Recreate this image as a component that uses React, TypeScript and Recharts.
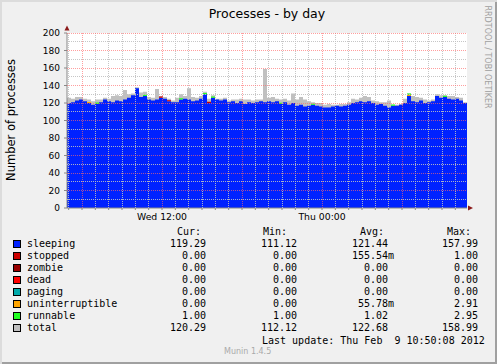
import React from "react";
import { ComposedChart, Area, XAxis, YAxis, CartesianGrid, ReferenceLine } from "recharts";

// time axis: hours since Wed 00:00, graph covers 30h ending Thu 10:52
const START_H = 4.875;
const STEP_H = 0.3;
const END_H = START_H + 30;

const sleeping = [
  120, 121, 123, 124, 122, 120, 118, 119, 121, 124,
  122, 121, 123, 122, 124, 126, 129, 137, 127, 128,
  124, 123, 124, 126, 125, 122, 121, 121, 124, 125,
  124, 122, 123, 125, 130, 120, 126, 124, 123, 124,
  121, 122, 120, 122, 119, 121, 120, 121, 122, 121,
  122, 121, 122, 119, 121, 118, 120, 117, 118, 116,
  117, 118, 117, 116, 115, 115, 116, 117, 116, 117,
  118, 120, 121, 122, 121, 122, 120, 118, 119, 117,
  115, 117, 117, 118, 120, 128, 122, 121, 123, 120,
  121, 122, 128, 126, 127, 125, 124, 125, 123, 120,
];

const total = [
  126, 125, 127, 127, 125, 124, 122, 124, 124, 126,
  125, 128, 129, 128, 135, 130, 131, 138, 132, 133,
  127, 126, 136, 128, 127, 125, 123, 126, 130, 128,
  137, 127, 126, 128, 133, 125, 129, 125, 125, 126,
  123, 124, 124, 125, 124, 124, 123, 124, 124, 159,
  126, 127, 125, 124, 125, 123, 131, 124, 127, 124,
  122, 121, 120, 120, 118, 119, 118, 118, 119, 119,
  121, 125, 124, 126, 128, 127, 123, 122, 121, 121,
  123, 118, 118, 119, 125, 131, 128, 127, 126, 124,
  123, 124, 130, 129, 129, 128, 128, 127, 126, 121,
];

// sparse series: [sample index, value]
const stoppedSpikes: [number, number][] = [[23, 1.5], [25, 1.2], [35, 1.5]];
const uninterruptibleSpikes: [number, number][] = [[5, 1.2], [85, 1.5]];
const runnableSpikes: [number, number][] = [
  [7, 1.5], [19, 1.5], [28, 1.5], [34, 1.5], [36, 1.5],
  [53, 1.2], [61, 1.2], [81, 1.2], [85, 1.5], [94, 1.2],
];

const yTicks = [0, 20, 40, 60, 80, 100, 120, 140, 160, 180, 200];
const yMinor = [10, 30, 50, 70, 90, 110, 130, 150, 170, 190];
const xMajor = [6, 12, 18, 24, 30];
const xLabels: Record<number, string> = { 12: "Wed 12:00", 24: "Thu 00:00" };

const legendNames = ["sleeping", "stopped", "zombie", "dead", "paging", "uninterruptible", "runnable", "total"];
const legendColors = ["#0022ff", "#cc0000", "#990000", "#ff0000", "#00aaaa", "#ffa500", "#22ff22", "#c0c0c0"];
const curVals = ["119.29", "  0.00", "  0.00", "  0.00", "  0.00", "  0.00", "  1.00", "120.29"];
const minVals = ["111.12", "  0.00", "  0.00", "  0.00", "  0.00", "  0.00", "  1.00", "112.12"];
const avgVals = ["121.44 ", "155.54m", "  0.00 ", "  0.00 ", "  0.00 ", " 55.78m", "  1.02 ", "122.68 "];
const maxVals = ["157.99", "  1.00", "  0.00", "  0.00", "  0.00", "  2.91", "  2.95", "158.99"];

const xHours = Array.from({ length: 30 }, (_, k) => 5 + k);

function spikeAt(list: [number, number][], i: number) {
  const hit = list.find((p) => p[0] === i);
  return hit ? hit[1] : 0;
}

const rows = sleeping.map((s, i) => ({
  t: START_H + i * STEP_H,
  sleeping: s,
  stopped: spikeAt(stoppedSpikes, i),
  zombie: 0,
  dead: 0,
  paging: 0,
  uninterruptible: spikeAt(uninterruptibleSpikes, i),
  runnable: spikeAt(runnableSpikes, i),
  total: total[i],
}));
rows.push({ ...rows[rows.length - 1], t: END_H });

const FONT = "'DejaVu Sans', sans-serif";
const MONO = "'DejaVu Sans Mono', monospace";
const stackKeys = ["sleeping", "stopped", "zombie", "dead", "paging", "uninterruptible", "runnable"];
const MARGIN = { top: 33, right: 30, bottom: 0, left: 27 };

const txt = (left: number, top: number, s: string, extra: React.CSSProperties = {}) => (
  <div style={{ position: "absolute", left, top, whiteSpace: "pre", fontFamily: MONO, fontSize: 10, lineHeight: "12px", ...extra }}>{s}</div>
);

export default function App() {
  return (
    <div
      style={{
        position: "absolute", left: 0, top: 0, width: 497, height: 364, background: "#f0f0f0",
        boxShadow: "inset 2px 2px 0 #dcdcdc, inset -2px -2px 0 #a0a0a0", overflow: "hidden",
      }}
    >
      <div style={{ position: "absolute", left: 0, top: 0 }}>
        <ComposedChart width={497} height={230} data={rows} margin={MARGIN}>
          <CartesianGrid fill="#ffffff" stroke="none" horizontal={false} vertical={false} />
          <XAxis
            dataKey="t" type="number" domain={[START_H, END_H]} ticks={xHours} interval={0}
            tickFormatter={(v: number) => xLabels[v] ?? ""} height={22} tickSize={2} tickMargin={3}
            stroke="#888888" tick={{ fontSize: 9.3, fill: "#000", fontFamily: FONT }}
          />
          <YAxis
            type="number" domain={[0, 200]} ticks={yTicks} interval={0} width={40} tickSize={3} tickMargin={4}
            allowDataOverflow stroke="#888888" tick={{ fontSize: 9, fill: "#000", fontFamily: FONT }}
          />
          <Area dataKey="total" type="stepAfter" stroke="none" fill="#c0c0c0" fillOpacity={1} isAnimationActive={false} />
          {stackKeys.map((k) => (
            <Area
              key={k} dataKey={k} stackId="p" type="stepAfter" stroke="none"
              fill={legendColors[legendNames.indexOf(k)]} fillOpacity={1} isAnimationActive={false}
            />
          ))}
        </ComposedChart>
      </div>

      {/* same scales again, on top, so the rrdtool-style grid shows over the areas */}
      <div style={{ position: "absolute", left: 0, top: 0, pointerEvents: "none" }}>
        <ComposedChart width={497} height={230} data={rows} margin={MARGIN}>
          <XAxis dataKey="t" type="number" domain={[START_H, END_H]} height={22} tick={false} tickLine={false} axisLine={false} />
          <YAxis type="number" domain={[0, 200]} width={40} tick={false} tickLine={false} axisLine={false} allowDataOverflow />
          {yMinor.map((v) => (
            <ReferenceLine key={"ym" + v} y={v} stroke="#c0c0c0" strokeOpacity={0.9} strokeDasharray="1 1" shapeRendering="crispEdges" />
          ))}
          {xHours.filter((h) => !xMajor.includes(h)).map((h) => (
            <ReferenceLine key={"xm" + h} x={h} stroke="#c0c0c0" strokeOpacity={0.9} strokeDasharray="1 1" shapeRendering="crispEdges" />
          ))}
          {yTicks.slice(1).map((v) => (
            <ReferenceLine key={"yM" + v} y={v} stroke="#ff6a6a" strokeOpacity={0.65} strokeDasharray="1 1" shapeRendering="crispEdges" />
          ))}
          {xMajor.map((h) => (
            <ReferenceLine key={"xM" + h} x={h} stroke="#ff6a6a" strokeOpacity={0.65} strokeDasharray="1 1" shapeRendering="crispEdges" />
          ))}
        </ComposedChart>
      </div>

      <svg width={497} height={364} style={{ position: "absolute", left: 0, top: 0, pointerEvents: "none" }}>
        <text x={267} y={18} textAnchor="middle" fontFamily={FONT} fontSize={12.5} fill="#000">Processes - by day</text>
        <text transform="translate(15,120) rotate(-90)" textAnchor="middle" fontFamily={FONT} fontSize={11.5} fill="#000">
          Number of processes
        </text>
        <text transform="translate(485,57) rotate(90)" textAnchor="middle" fontFamily={FONT} fontSize={8} fill="#a0a0a0">
          RRDTOOL / TOBI OETIKER
        </text>
        <polygon points="64.5,30.5 69.5,30.5 67,25.5" fill="#8b1a1a" />
        <polygon points="468,205.5 468,210.5 473,208" fill="#8b1a1a" />
      </svg>

      {txt(177, 226, "Cur:")}
      {txt(263, 226, "Min:")}
      {txt(360, 226, "Avg:")}
      {txt(447, 226, "Max:")}
      {legendNames.map((n, i) => {
        const top = 238 + i * 12;
        return (
          <React.Fragment key={n}>
            <div style={{ position: "absolute", left: 13, top: top + 2, width: 6, height: 6, border: "1px solid #000", background: legendColors[i] }} />
            {txt(27, top, n)}
            {txt(170, top, curVals[i])}
            {txt(261, top, minVals[i])}
            {txt(352, top, avgVals[i])}
            {txt(442, top, maxVals[i])}
          </React.Fragment>
        );
      })}
      {txt(262, 335, "Last update: Thu Feb  9 10:50:08 2012")}
      <div style={{ position: "absolute", left: 224, top: 347, fontFamily: FONT, fontSize: 8, color: "#aaaaaa", whiteSpace: "pre" }}>
        Munin 1.4.5
      </div>
    </div>
  );
}
